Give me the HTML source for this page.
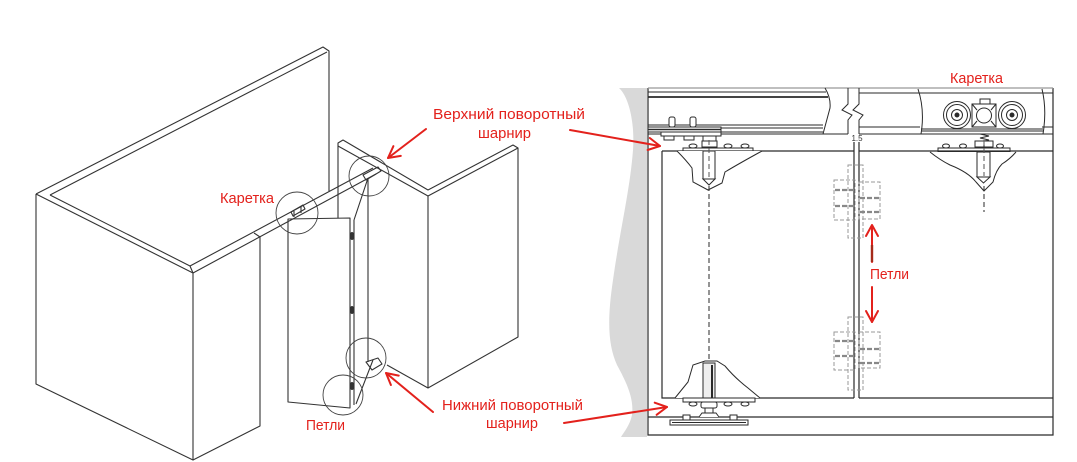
<!DOCTYPE html>
<html>
<head>
<meta charset="utf-8">
<style>
html,body{margin:0;padding:0;background:#fff;}
svg{display:block;}
text{font-family:"Liberation Sans","DejaVu Sans",sans-serif;fill:#e3211c;}
</style>
</head>
<body>
<svg width="1077" height="462" viewBox="0 0 1077 462" xmlns="http://www.w3.org/2000/svg">
<rect width="1077" height="462" fill="#fff"/>

<!-- ============ LEFT ISOMETRIC DRAWING ============ -->
<g fill="none" stroke="#333" stroke-width="1.1" stroke-linejoin="round">
  <!-- back wall -->
  <path d="M36,194 L323,47 L329,51 L329,191"/>
  <path d="M50,195 L327,52"/>
  <!-- side wall -->
  <path d="M36,194 L36,384 L193,460 L193,273 L36,194"/>
  <path d="M50,195 L190,266 L193,273"/>
  <path d="M193,460 L260,426 L260,237"/>
  <path d="M254,233 L260,237"/>
  <!-- track -->
  <path d="M190,266 L373,168"/>
  <path d="M193,273 L376,174"/>
  <!-- right L wall -->
  <path d="M338,218 L338,143 L343,140 L428,190 L513,145 L518,148 L518,337 L428,388 L387,365"/>
  <path d="M338,146 L428,196 L518,148"/>
  <path d="M428,196 L428,388"/>
  <!-- door panel 1 -->
  <path d="M288,219 L350,218 L350,408 L288,402 Z"/>
  <path d="M354,220 L354,405"/>
  <!-- door panel 2 -->
  <path d="M354,220 L368,178"/>
  <path d="M368,178 L368,362"/>
  <path d="M373,360 L356,404"/>
  <path d="M366,362 L378,358 L382,364 L372,370 Z"/>
  <!-- carriage block -->
  <path d="M291,212 L303,205 L305,209 L293,216 Z"/>
  <path d="M294,211 L294,217 M301,207 L301,213"/>
  <!-- top pivot block -->
  <path d="M363,175 L378,167 L381,171 L366,180 Z"/>
</g>
<!-- hinge dots -->
<g fill="#333">
  <ellipse cx="352" cy="236" rx="2.5" ry="4"/>
  <ellipse cx="352" cy="310" rx="2.5" ry="4"/>
  <ellipse cx="352" cy="386" rx="2.5" ry="4"/>
</g>
<!-- magnifier circles -->
<g fill="none" stroke="#444" stroke-width="0.9">
  <circle cx="297" cy="213" r="21"/>
  <circle cx="369" cy="176" r="20"/>
  <circle cx="366" cy="358" r="20"/>
  <circle cx="343" cy="395" r="20"/>
</g>

<!-- ============ RIGHT TECHNICAL DRAWING ============ -->
<!-- gray wavy band -->
<path d="M619,88 C628,96 635,120 633,150 C630,190 620,230 613,280 C607,320 608,345 617,365 C628,385 634,400 632,415 C630,425 624,432 621,437 L647,437 L647,88 Z" fill="#d9d9d9"/>

<g fill="none" stroke="#2a2a2a" stroke-width="1.2">
  <!-- frame -->
  <path d="M648,88 L648,435 L1053,435 L1053,88"/>
  <path d="M648,417 L1053,417"/>
</g>
<path d="M648,88 L1053,88" stroke="#999" stroke-width="1.2"/>

<!-- left rail part -->
<g fill="none" stroke="#2a2a2a" stroke-width="1">
  <path d="M648,92 L826,92"/>
  <path d="M648,97 L828,97" stroke-width="1.8"/>
  <path d="M825,88 Q831,98 830,108 L823,134"/>
  <path d="M648,125 L823,125 M648,128 L823,128 M648,132 L823,132 M648,134 L848,134"/>
  <path d="M848,88 V104 L842,110 L852,115 L848,120 V134"/>
  <path d="M859,88 V104 L853,110 L863,115 L859,120 V134"/>
  <!-- right rail part -->
  <path d="M859,93 L1053,93"/>
  <path d="M859,127 L920,127 M1042,127 L1053,127"/>
  <path d="M859,134 L1053,134"/>
  <path d="M918,89 Q925,110 921,134"/>
  <path d="M1042,89 Q1047,110 1043,134"/>
  <path d="M921,129 L1043,129 M921,131 L1043,131"/>
</g>

<!-- right carriage (wheels) -->
<g fill="#fff" stroke="#2a2a2a" stroke-width="1">
  <circle cx="957" cy="115" r="13.5"/>
  <circle cx="957" cy="115" r="10.5"/>
  <circle cx="957" cy="115" r="5.5"/>
  <circle cx="957" cy="115" r="2" fill="#2a2a2a"/>
  <circle cx="1012" cy="115" r="13.5"/>
  <circle cx="1012" cy="115" r="10.5"/>
  <circle cx="1012" cy="115" r="5.5"/>
  <circle cx="1012" cy="115" r="2" fill="#2a2a2a"/>
  <rect x="980" y="99" width="10" height="5"/>
  <rect x="972" y="104" width="24" height="23"/>
  <circle cx="984" cy="115.5" r="7.5"/>
  <path d="M972,104 L977,110 M996,104 L991,110 M972,127 L977,121 M996,127 L991,121" fill="none"/>
  <path d="M980,134 L989,136 L980,138 L989,140 L980,142" fill="none"/>
  <rect x="975" y="141" width="18" height="6"/>
  <path d="M984,141 V147" fill="none"/>
  <rect x="938" y="148" width="72" height="4"/>
  <ellipse cx="946" cy="146" rx="3.5" ry="2"/>
  <ellipse cx="963" cy="146" rx="3.5" ry="2"/>
  <ellipse cx="1000" cy="146" rx="3.5" ry="2"/>
</g>

<!-- left fixed carriage -->
<g fill="#fff" stroke="#2a2a2a" stroke-width="1">
  <rect x="669" y="117" width="6" height="10" rx="2"/>
  <rect x="690" y="117" width="6" height="10" rx="2"/>
  <rect x="648" y="127" width="73" height="5"/>
  <path d="M648,129.5 L721,129.5" stroke-width="1.6"/>
  <rect x="661" y="132" width="60" height="4"/>
  <rect x="664" y="136" width="10" height="4"/>
  <rect x="684" y="136" width="10" height="4"/>
  <rect x="703" y="136" width="13" height="5"/>
  <rect x="702" y="141" width="15" height="6"/>
  <ellipse cx="693" cy="146" rx="4" ry="2"/>
  <ellipse cx="728" cy="146" rx="4" ry="2"/>
  <ellipse cx="745" cy="146" rx="4" ry="2"/>
  <path d="M683,151 L683,148 L753,148 L753,151" fill="none"/>
</g>

<!-- doors -->
<g fill="none" stroke="#2a2a2a" stroke-width="1.2">
  <path d="M662,151 L854,151 M662,151 L662,398 L854,398"/>
  <path d="M859,151 L1053,151 M859,398 L1053,398"/>
  <path d="M854,142 L854,398 M859,142 L859,398"/>
</g>
<text x="857" y="141" font-size="8" text-anchor="middle" style="fill:#333">1.5</text>

<!-- top brackets -->
<g fill="#fff" stroke="#2a2a2a" stroke-width="1">
  <path d="M677,151 Q686,160 692,168 L693,182 L708,190 L722,183 L725,172 Q740,163 762,151"/>
  <rect x="703" y="151" width="12" height="28"/>
  <path d="M703,179 L715,179 L709,185 Z"/>
  <path d="M930,152 Q940,160 950,165 Q968,172 976,182 L984,191 L993,182 Q996,170 1002,164 Q1010,159 1016,152"/>
  <rect x="977" y="152" width="13" height="25"/>
  <path d="M977,177 L990,177 L983.5,183 Z"/>
</g>
<g stroke="#2a2a2a" stroke-width="1" stroke-dasharray="5,3" fill="none">
  <path d="M709,186 L709,362"/>
  <path d="M984,186 L984,212"/>
  <path d="M709,140 L709,178 M984,140 L984,176" stroke="#555"/>
</g>

<!-- bottom bracket -->
<g fill="#fff" stroke="#2a2a2a" stroke-width="1">
  <path d="M675,398 L688,382 L693,365 L705,361 L717,361 L725,366 Q735,378 748,388 L760,398"/>
  <rect x="703" y="363" width="12" height="35" fill="#eee"/>
  <path d="M712,365 L712,398" stroke-width="2"/>
  <rect x="683" y="398" width="72" height="4"/>
  <ellipse cx="693" cy="404" rx="4" ry="2"/>
  <ellipse cx="728" cy="404" rx="4" ry="2"/>
  <ellipse cx="745" cy="404" rx="4" ry="2"/>
  <rect x="701" y="402" width="16" height="6" rx="2"/>
  <rect x="705" y="408" width="8" height="5"/>
  <path d="M699,417 L702,413 L716,413 L719,417"/>
  <rect x="683" y="415" width="7" height="5"/>
  <rect x="730" y="415" width="7" height="5"/>
  <rect x="670" y="420" width="78" height="5"/>
  <path d="M672,422.5 L746,422.5" fill="none"/>
</g>

<!-- hinges (dashed gray) -->
<g fill="none" stroke="#9a9a9a" stroke-width="1" stroke-dasharray="4,2">
  <rect x="834" y="180" width="21" height="40"/>
  <rect x="859" y="182" width="21" height="37"/>
  <rect x="848" y="165" width="15" height="73"/>
  <rect x="834" y="332" width="21" height="38"/>
  <rect x="859" y="332" width="21" height="36"/>
  <rect x="848" y="317" width="15" height="73"/>
</g>
<g fill="none" stroke="#888" stroke-width="2.2" stroke-dasharray="5,2">
  <path d="M835,190 L855,190 M835,206 L855,206 M860,198 L879,198 M860,212 L879,212"/>
  <path d="M835,341 L855,341 M835,356 L855,356 M860,349 L879,349 M860,363 L879,363"/>
</g>

<!-- ============ RED ARROWS ============ -->
<g fill="none" stroke="#e3211c" stroke-width="2" stroke-linecap="round" stroke-linejoin="round">
  <path d="M426,129 L388,158"/>
  <path d="M400.8,155.9 L388,158 L393.4,146.2"/>
  <path d="M570,130 L660,146"/>
  <path d="M649.8,138 L660,146 L647.6,150"/>
  <path d="M433,412 L386,373"/>
  <path d="M390.9,385 L386,373 L398.7,375.6"/>
  <path d="M564,423 L667,407"/>
  <path d="M654.7,402.7 L667,407 L656.6,414.8"/>
  <path d="M872,262 L872,226"/>
  <path d="M866,236 L872,225 L878,236"/>
  <path d="M872,287 L872,322"/>
  <path d="M866,311 L872,322 L878,311"/>
</g>
<path d="M872,245 L872,262" stroke="#a52a1a" stroke-width="2.4"/>

<!-- ============ LABELS ============ -->
<g font-size="15">
  <text x="433" y="119" textLength="152" lengthAdjust="spacingAndGlyphs">Верхний поворотный</text>
  <text x="478" y="138" textLength="53" lengthAdjust="spacingAndGlyphs">шарнир</text>
  <text x="442" y="410" textLength="141" lengthAdjust="spacingAndGlyphs">Нижний поворотный</text>
  <text x="486" y="428" textLength="52" lengthAdjust="spacingAndGlyphs">шарнир</text>
  <text x="220" y="203" textLength="54" lengthAdjust="spacingAndGlyphs">Каретка</text>
  <text x="306" y="430" textLength="39" lengthAdjust="spacingAndGlyphs">Петли</text>
  <text x="950" y="83" textLength="53" lengthAdjust="spacingAndGlyphs">Каретка</text>
  <text x="870" y="279" textLength="39" lengthAdjust="spacingAndGlyphs">Петли</text>
</g>
</svg>
</body>
</html>
